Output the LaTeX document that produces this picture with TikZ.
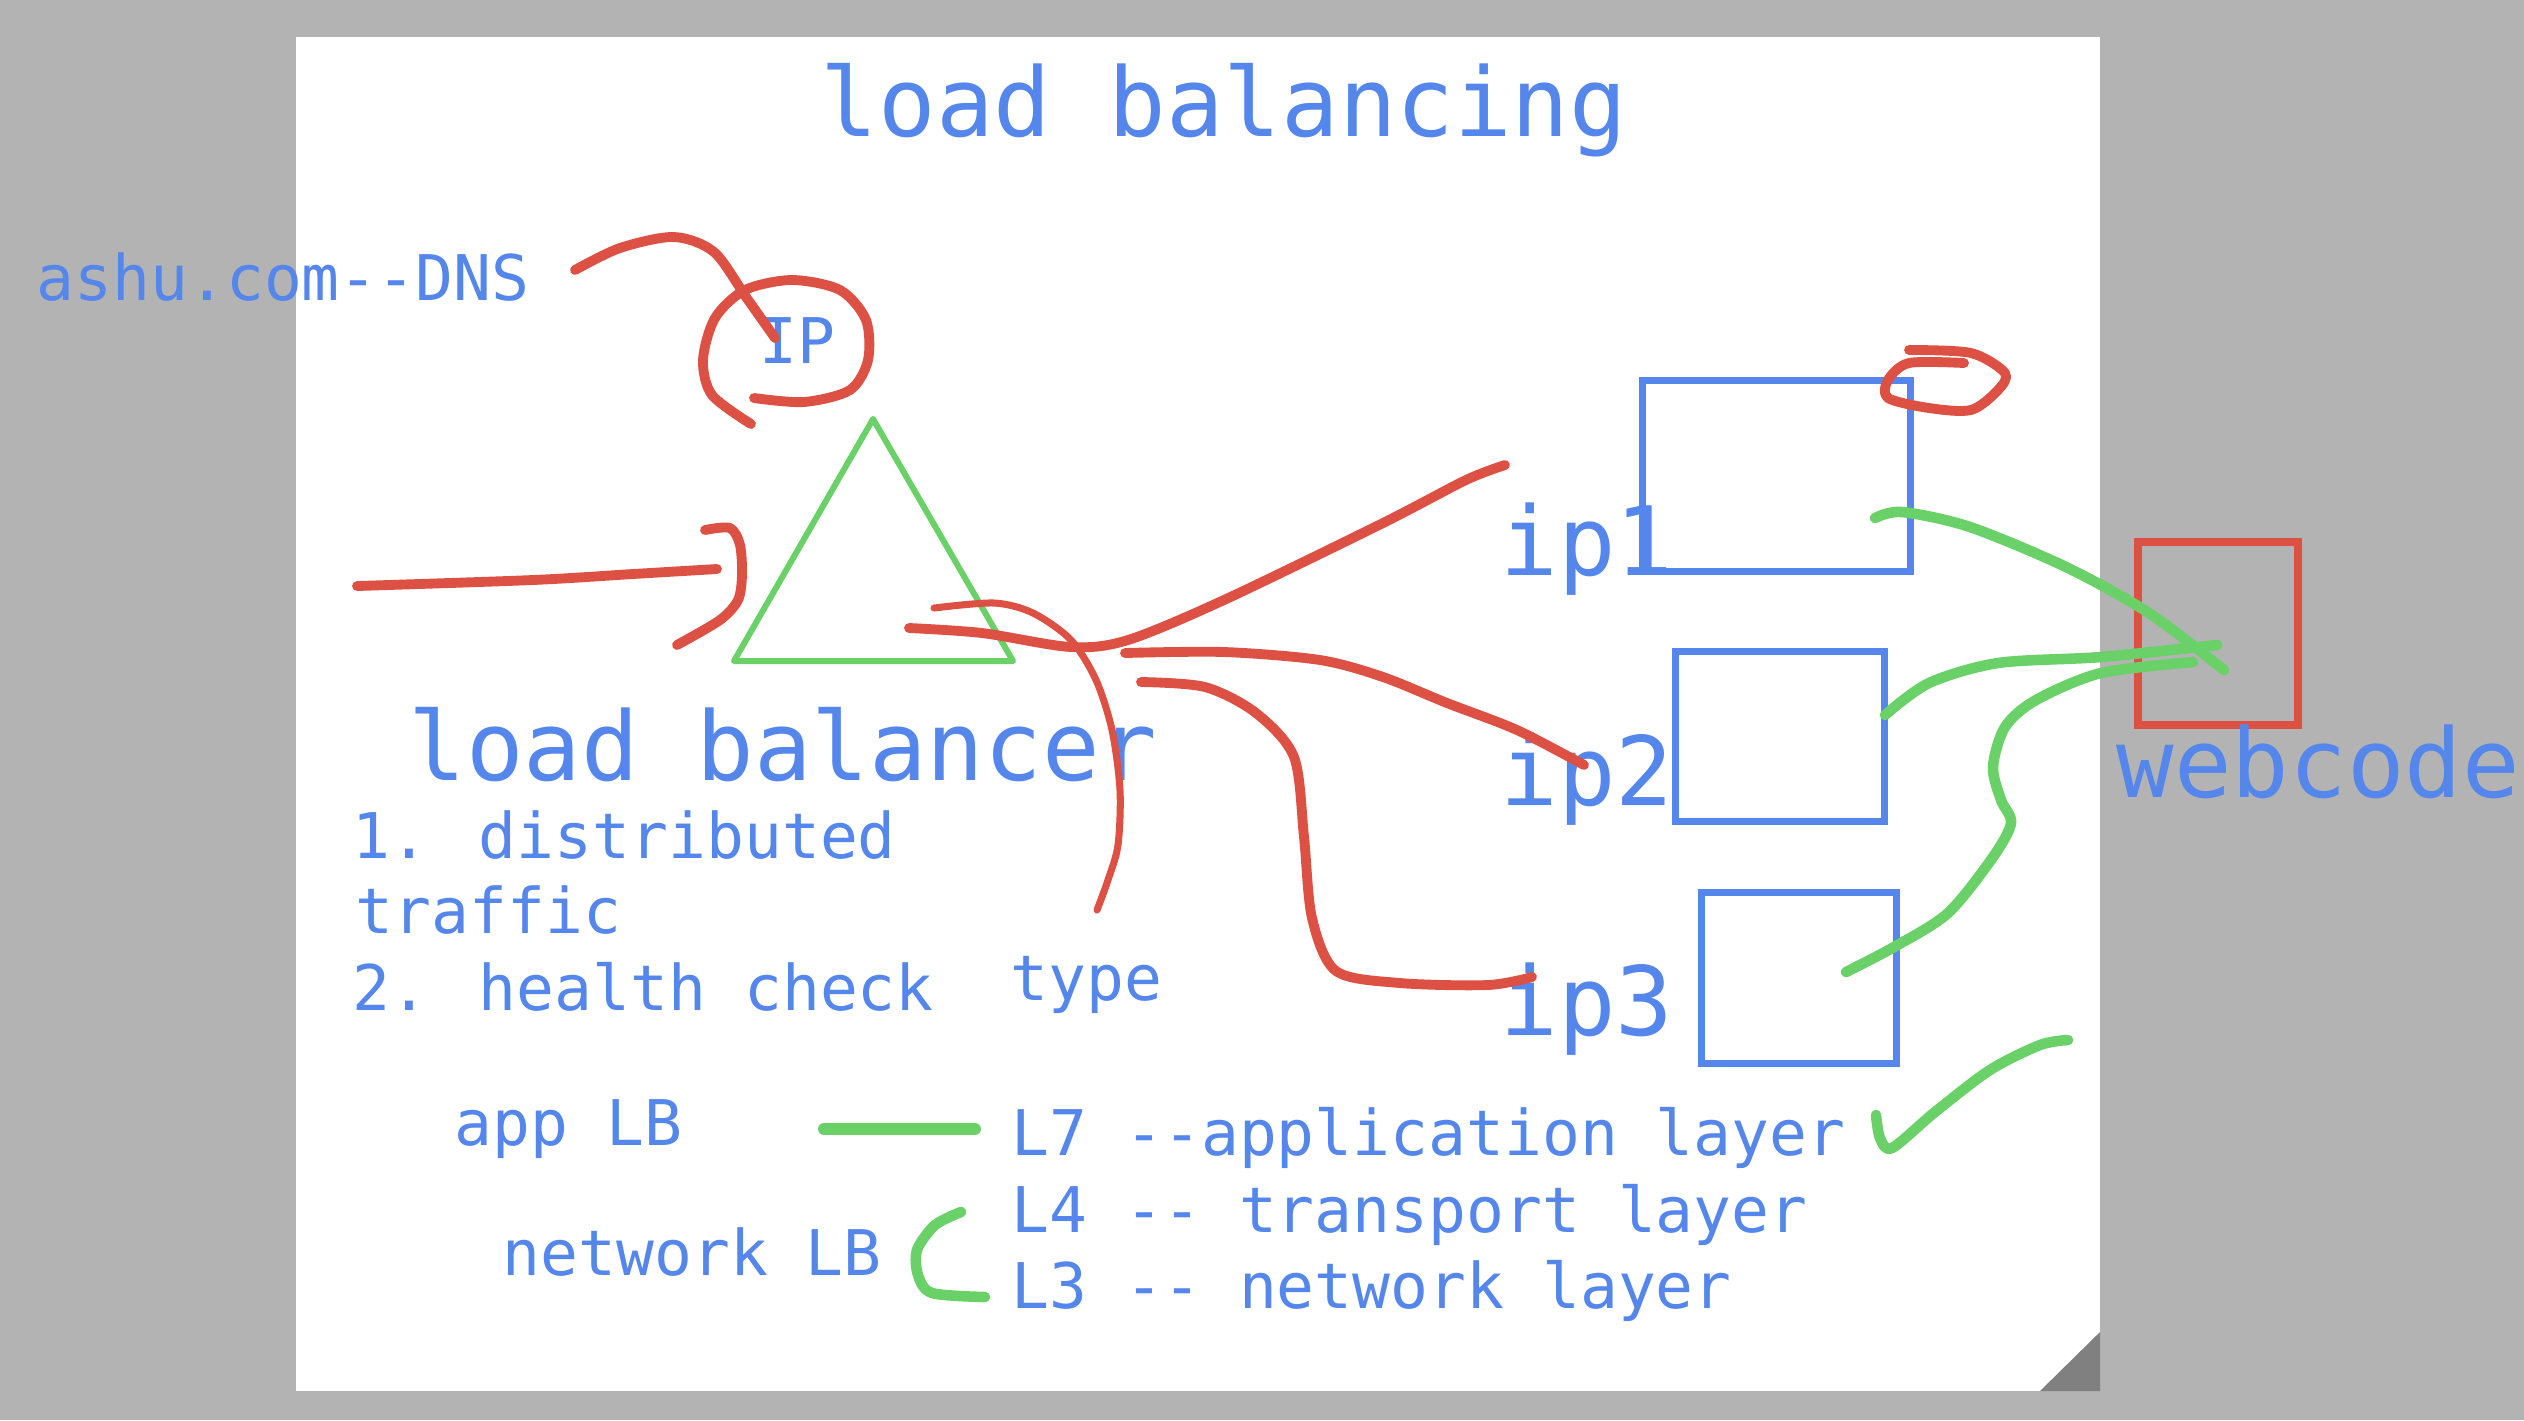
\documentclass[tikz,border=0pt]{standalone}
\usepackage{fontspec}
\newfontfamily\sketchfont{DejaVu Sans Mono}
\definecolor{inkblue}{RGB}{84,134,236}
\definecolor{inkred}{RGB}{221,81,68}
\definecolor{inkgreen}{RGB}{106,208,104}
\definecolor{deskgray}{RGB}{179,179,179}
\definecolor{foldgray}{RGB}{128,128,128}

\begin{document}
\begin{tikzpicture}[x=0.01cm, y=-0.01cm,
      big/.style={text=inkblue, font=\sketchfont\fontsize{27.2}{32}\selectfont, inner sep=0pt},
      small/.style={text=inkblue, font=\sketchfont\fontsize{17.9}{22}\selectfont, inner sep=0pt},
      ipbox/.style={draw=inkblue, line width=2pt, inner sep=0pt},
      redink/.style={draw=inkred, line width=2.8pt, line cap=round, line join=round},
      greenink/.style={draw=inkgreen, line width=3pt, line cap=round, line join=round}]

    \useasboundingbox (0,0) rectangle (2524,1420);
    \clip (0,0) rectangle (2524,1420);
    \fill[deskgray] (0,0) rectangle (2524,1420);
    \fill[white] (296,37) rectangle (2100,1391);
    \fill[foldgray] (2040,1391) -- (2100,1332) -- (2100,1391) -- cycle;

    % boxes and the balancer
    \node[ipbox, minimum width=2.67cm, minimum height=1.90cm] (box1) at (1776.5,476) {};
    \node[ipbox, minimum width=2.08cm, minimum height=1.69cm] (box2) at (1780,736.5) {};
    \node[ipbox, minimum width=1.94cm, minimum height=1.70cm] (box3) at (1799,978) {};
    \node[draw=inkred, line width=2.2pt, inner sep=0pt, minimum width=1.60cm, minimum height=1.83cm] (web) at (2218,633.5) {};
    \draw[draw=inkgreen, line width=1.7pt, line join=round] (873,419) -- (734,661) -- (1013,661) -- cycle;

    % texts
    \node[big, anchor=base] (title) at (1224,136) {load balancing};
    \node[small, anchor=base] (dns) at (283,300) {ashu.com--DNS};
    \node[small, anchor=base] (ip) at (797,363) {IP};
    \node[big, anchor=base] (lb) at (783,780) {load balancer};
    \node[small, anchor=base west] (dist) at (352,858) {1. distributed};
    \node[small, anchor=base west] (traffic) at (355,933) {traffic};
    \node[small, anchor=base west] (health) at (352,1010) {2. health check};
    \node[small, anchor=base west] (type) at (1010,1000) {type};
    \node[big, anchor=base west] (ip1) at (1500,575) {ip1};
    \node[big, anchor=base west] (ip2) at (1500,805) {ip2};
    \node[big, anchor=base west] (ip3) at (1500,1035) {ip3};
    \node[big, anchor=base west] (webcode) at (2116,797) {webcode};
    \node[small, anchor=base west] (app) at (454,1145) {app LB};
    \node[small, anchor=base west] (net) at (502,1275) {network LB};
    \node[small, anchor=base west] (l7) at (1011,1155) {L7 --application layer};
    \node[small, anchor=base west] (l4) at (1011,1232) {L4 -- transport layer};
    \node[small, anchor=base west] (l3) at (1011,1308) {L3 -- network layer};

    % red ink
    \draw[redink] plot[smooth] coordinates {(575,270) (620,248) (674,237) (714,252) (746,297) (775,338)};
    \draw[redink] plot[smooth] coordinates {(751,424) (712,395) (703,360) (715,318) (745,290) (792,280) (840,290) (866,320) (868,360) (850,390) (804,402) (754,398)};
    \draw[redink] plot[smooth] coordinates {(357,586) (533,580) (633,574) (717,569)};
    \draw[redink] plot[smooth] coordinates {(705,530) (730,528) (740,545) (742,575) (738,600) (720,620) (677,645)};
    \draw[redink] plot[smooth] coordinates {(909,628) (982,633) (1071,647) (1128,640) (1224,600) (1383,523) (1466,480) (1505,465)};
    \draw[redink, line width=2pt] plot[smooth] coordinates {(934,608) (994,603) (1033,613) (1071,640) (1096,680) (1112,730) (1120,790) (1118,845) (1108,880) (1097,910)};
    \draw[redink] plot[smooth] coordinates {(1125,653) (1224,652) (1320,660) (1383,677) (1447,703) (1517,730) (1584,765)};
    \draw[redink] plot[smooth] coordinates {(1141,682) (1205,687) (1256,713) (1294,757) (1304,837) (1312,918) (1336,971) (1400,983) (1488,985) (1532,977)};
    \draw[redink] plot[smooth] coordinates {(1909,350) (1971,353) (2005,373) (1998,390) (1971,410) (1929,408) (1888,398) (1888,380) (1909,363) (1964,363)};

    % green ink
    \draw[greenink] plot[smooth] coordinates {(1875,518) (1902,512) (1970,527) (2066,567) (2149,613) (2224,670)};
    \draw[greenink] plot[smooth] coordinates {(1885,715) (1929,683) (1998,663) (2101,657) (2217,645)};
    \draw[greenink] plot[smooth] coordinates {(1846,972) (1894,947) (1948,913) (1993,857) (2011,823) (2001,800) (1993,767) (2005,727) (2036,700) (2101,673) (2193,662)};
    \draw[greenink, line width=3.4pt] (824,1129) -- (975,1129);
    \draw[greenink] plot[smooth] coordinates {(961,1212) (935,1225) (917,1250) (918,1275) (932,1293) (985,1297)};
    \draw[greenink] plot[smooth] coordinates {(1876,1115) (1880,1138) (1892,1148) (1935,1112) (1990,1070) (2040,1045) (2068,1040)};
  \end{tikzpicture}
\end{document}
